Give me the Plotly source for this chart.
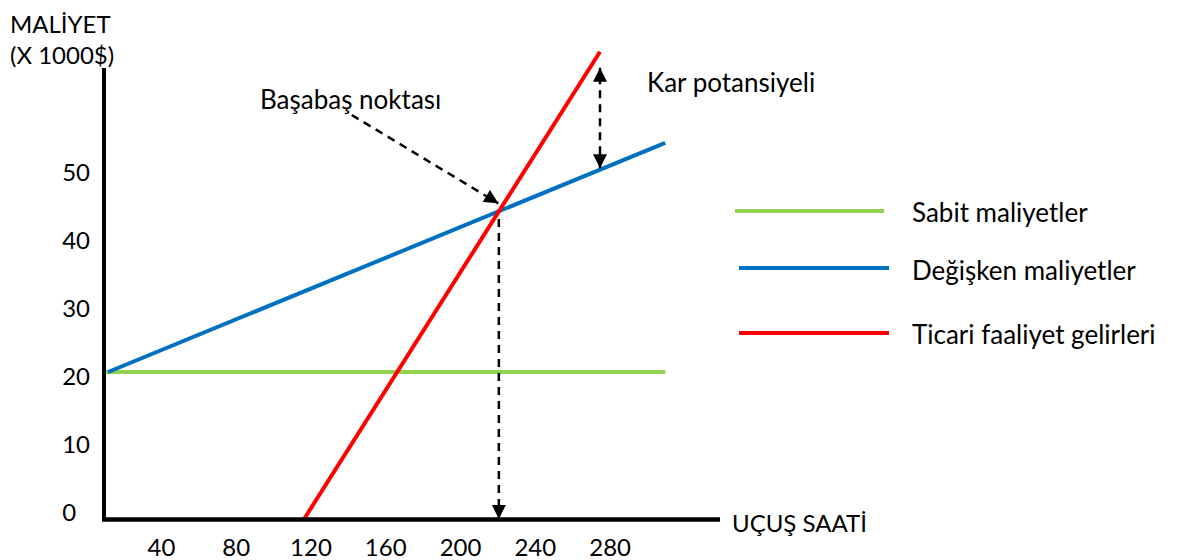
import plotly.graph_objects as go

# Chart values (flight hours vs cost in 1000$)
x_ticks = [40, 80, 120, 160, 200, 240, 280]
y_ticks = [0, 10, 20, 30, 40, 50]

fixed_x = [10, 309.5]
fixed_y = [20, 20]
variable_x = [11.5, 309.5]
variable_y = [20, 53.7]
revenue_x = [116.6, 274.6]
revenue_y = [-1.5, 67.1]

# dashed helper arrows
breakeven_arrow_x = [141.8, 220.2]
breakeven_arrow_y = [57.8, 44.8]
drop_x = [220.5, 220.5]
drop_y = [42.5, -1.6]
profit_x = [274.6, 274.6]
profit_y = [49.96, 64.75]

legend_names = ["Sabit maliyetler", "Değişken maliyetler", "Ticari faaliyet gelirleri"]
colors = ["#92D050", "#0070C0", "#FF0000"]

FONT = "Lato, 'Noto Sans', sans-serif"
# the page body has an 8px margin, so the figure is drawn 8px in from the corner
OFF = 8
W, H = 1185 - OFF, 560 - OFF
PL, PB, PT = 103, 520, 8          # plot area edges in page pixels


def px(x):
    return (x - PL) / (1185 - PL)


def py(y):
    return (PB - y) / (PB - PT)


fig = go.Figure()

series = [(fixed_x, fixed_y), (variable_x, variable_y), (revenue_x, revenue_y)]
for (xs, ys), name, c in zip(series, legend_names, colors):
    fig.add_trace(go.Scatter(x=xs, y=ys, mode="lines", name=name,
                             line=dict(color=c, width=4), hoverinfo="skip"))

for xs, ys in [(breakeven_arrow_x, breakeven_arrow_y), (drop_x, drop_y), (profit_x, profit_y)]:
    fig.add_trace(go.Scatter(x=xs, y=ys, mode="lines", showlegend=False,
                             line=dict(color="black", width=2.5, dash="8px,6px"),
                             hoverinfo="skip"))

# arrow heads (tail offsets in pixels)
heads = [
    (breakeven_arrow_x[1], breakeven_arrow_y[1], -13, -8),
    (drop_x[1], drop_y[1], 0, -16),
    (profit_x[0], profit_y[0], 0, -16),
    (profit_x[1], profit_y[1], 0, 16),
]
ann = []
for x, y, ax, ay in heads:
    ann.append(dict(x=x, y=y, ax=ax, ay=ay, text="", showarrow=True,
                    arrowhead=2, arrowsize=1.4, arrowwidth=2, arrowcolor="black"))

txt = dict(xref="paper", yref="paper", showarrow=False, xanchor="left", borderpad=0)
# (text, left x, y, anchor, size) in page pixels
labels = [
    ("MALİYET", 9, 8, "top", 24),
    ("(X 1000$)", 9, 54, "middle", 24),
    ("Başabaş noktası", 259, 99, "middle", 26),
    ("Kar potansiyeli", 646, 82, "middle", 26),
    ("UÇUŞ SAATİ", 731, 522, "middle", 24),
]
for t, x, y, anc, s in labels:
    ann.append(dict(text=t, x=px(x), y=py(y), yanchor=anc,
                    font=dict(family=FONT, size=s, color="black"), **txt))

shapes = [
    dict(type="line", xref="paper", yref="paper", x0=px(104), x1=px(104),
         y0=py(520), y1=py(68), line=dict(color="black", width=4)),
    dict(type="line", xref="paper", yref="paper", x0=px(102), x1=px(720),
         y0=py(519.5), y1=py(519.5), line=dict(color="black", width=4.5)),
]

# legend drawn by hand: long sample lines
legend_rows = [(735, 884, 211, 212), (739, 889, 268, 270), (739, 889, 333, 334)]
for (x0, x1, ly, ty), name, c in zip(legend_rows, legend_names, colors):
    shapes.append(dict(type="line", xref="paper", yref="paper", x0=px(x0), x1=px(x1),
                       y0=py(ly), y1=py(ly), line=dict(color=c, width=4)))
    ann.append(dict(text=name, x=px(911), y=py(ty), yanchor="middle",
                    font=dict(family=FONT, size=26, color="black"), **txt))

fig.update_layout(
    width=W, height=H,
    margin=dict(l=PL - OFF, r=0, t=PT - OFF, b=560 - PB),
    paper_bgcolor="white", plot_bgcolor="white",
    showlegend=False,
    font=dict(family=FONT, size=24, color="black"),
    xaxis=dict(range=[(PL - 86.6) / 1.8696, (1185 - 86.6) / 1.8696],
               tickvals=x_ticks, ticktext=[str(v) for v in x_ticks],
               showgrid=False, zeroline=False, showline=False,
               ticklabelstandoff=11),
    yaxis=dict(range=[(508 - PB) / 6.8, (508 - PT) / 6.8],
               tickvals=y_ticks,
               ticktext=[str(v).ljust(2, "\u2007") for v in y_ticks],
               showgrid=False, zeroline=False, showline=False,
               ticklabelstandoff=12, ticklabelshift=5),
    shapes=shapes,
    annotations=ann,
)

fig.write_html("out.html")
